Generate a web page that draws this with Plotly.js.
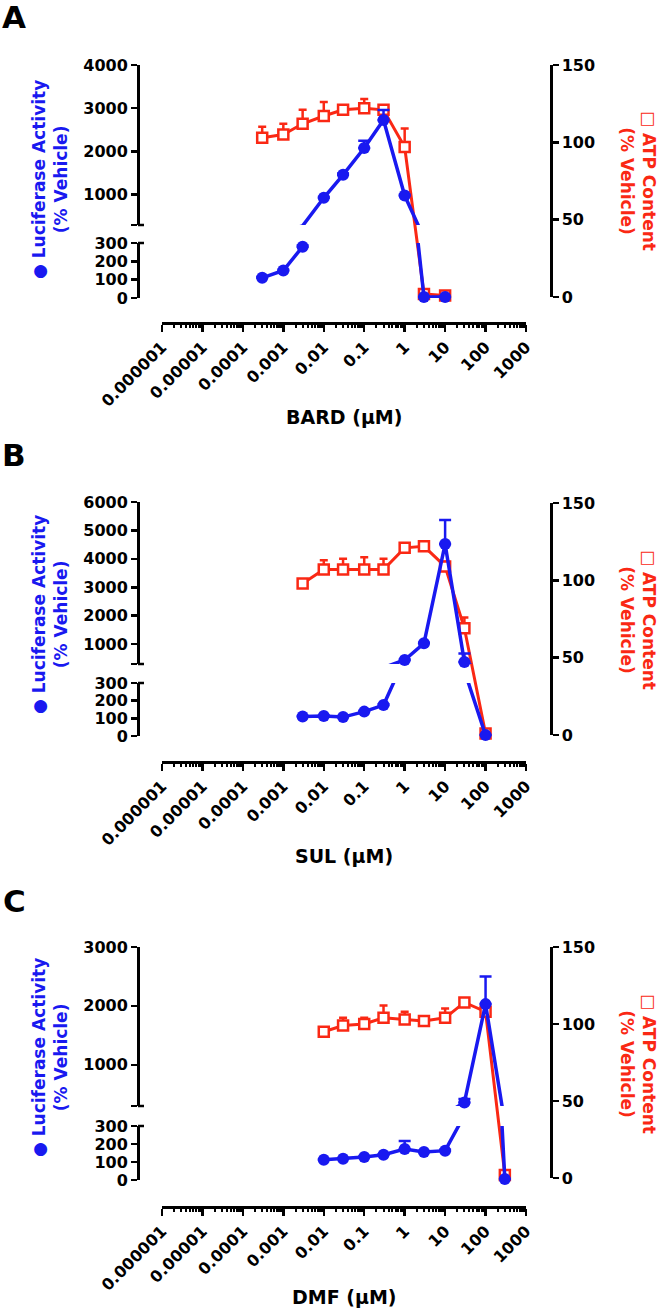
<!DOCTYPE html>
<html>
<head>
<meta charset="utf-8">
<script src="https://cdn.plot.ly/plotly-3.0.1.min.js"></script>
<style>
  html, body { margin: 0; padding: 0; background: #fff; }
  #chart { width: 661px; height: 1311px; }
</style>
</head>
<body>
<div id="chart"></div>
<script>
// concentrations (uM) per panel
const concA = [0.0003, 0.001, 0.003, 0.01, 0.03, 0.1, 0.3, 1, 3, 10];
const concB = [0.003, 0.01, 0.03, 0.1, 0.3, 1, 3, 10, 30, 100];
const concC = [0.01, 0.03, 0.1, 0.3, 1, 3, 10, 30, 100, 300];

// luciferase activity (% vehicle), mean and upper SD
const lucA = [110, 150, 280, 930, 1460, 2080, 2730, 980, 5, 5];
const lucErrA = [4, 4, 6, 20, 30, 170, 230, 20, 1, 1];
const lucB = [110, 113, 107, 138, 175, 440, 1030, 4520, 370, 5];
const lucErrB = [3, 3, 3, 4, 5, 20, 20, 850, 300, 1];
const lucC = [112, 118, 128, 140, 172, 155, 163, 360, 2030, 5];
const lucErrC = [3, 3, 3, 3, 45, 3, 5, 60, 470, 1];

// ATP content (% vehicle), mean and upper SD
const atpA = [103, 105, 112, 117, 121, 122, 121, 97, 2, 1];
const atpErrA = [7, 7, 9, 9, 2, 6, 3, 12, 1, 1];
const atpB = [98, 107, 107, 107, 107, 121, 122, 109, 69, 1];
const atpErrB = [1, 6, 7, 8, 7, 1, 2, 3, 7, 0];
const atpC = [95, 99, 100, 104, 103, 102, 104, 114, 108, 2];
const atpErrC = [1, 5, 4, 8, 5, 1, 6, 2, 2, 0];

const drugs = ['BARD', 'SUL', 'DMF'];
const letters = ['A', 'B', 'C'];

const xTickVals = [1e-6, 1e-5, 1e-4, 1e-3, 1e-2, 1e-1, 1, 10, 100, 1000];
const xTickText = ['0.000001', '0.00001', '0.0001', '0.001', '0.01', '0.1', '1', '10', '100', '1000'];
const lowTicks = [0, 100, 200, 300];
const breakAt = 300;
const upTop = [4000, 6000, 3000];
const atpTicks = [0, 50, 100, 150];

const panels = [
  {conc: concA, luc: lucA, lucErr: lucErrA, atp: atpA, atpErr: atpErrA},
  {conc: concB, luc: lucB, lucErr: lucErrB, atp: atpB, atpErr: atpErrB},
  {conc: concC, luc: lucC, lucErr: lucErrC, atp: atpC, atpErr: atpErrC}
];

// pixel geometry of each panel
const geo = [
  {xLine: 323, redBot: 297, redTop: 65, lowBot: 298, lowTop: 243, upBot: 225, upTopPx: 65,
   letterY: 17, leftTitleY: 180, rightTitleY: 181, xTitleY: 417},
  {xLine: 762, redBot: 735, redTop: 503, lowBot: 736, lowTop: 683, upBot: 664, upTopPx: 502,
   letterY: 455, leftTitleY: 615, rightTitleY: 620, xTitleY: 856},
  {xLine: 1207, redBot: 1178, redTop: 947, lowBot: 1180, lowTop: 1126, upBot: 1106, upTopPx: 947,
   letterY: 901, leftTitleY: 1058, rightTitleY: 1064, xTitleY: 1297}
];

const W = 661, H = 1311;
const fx = p => p / W;
const fy = p => 1 - p / H;
const LEFT_X = 138, RIGHT_X = 551, X0 = 162, X1 = 526;

const BLUE = 'rgb(25,25,240)';
const RED = 'rgb(250,40,20)';
const FONT = 'DejaVu Sans, Arial, sans-serif';
const tickFont = {family: FONT, size: 16, color: 'black', weight: 'bold'};

const data = [];
const layout = {
  width: W, height: H,
  margin: {l: 0, r: 0, t: 0, b: 0},
  paper_bgcolor: 'white',
  plot_bgcolor: 'rgba(0,0,0,0)',
  showlegend: false,
  font: {family: FONT},
  annotations: [],
  shapes: []
};

const yAxisBase = {
  anchor: 'free', showgrid: false, zeroline: false, showline: true,
  linecolor: 'black', linewidth: 2.5, ticks: 'outside', ticklen: 6, tickwidth: 2.5,
  tickcolor: 'black', tickfont: tickFont, fixedrange: true
};

panels.forEach((p, i) => {
  const g = geo[i];
  const xid = i === 0 ? 'x' : 'x' + (i + 1);
  const xkey = i === 0 ? 'xaxis' : 'xaxis' + (i + 1);
  const rId = 3 * i + 1, loId = 3 * i + 2, upId = 3 * i + 3;
  const yid = n => n === 1 ? 'y' : 'y' + n;
  const ykey = n => n === 1 ? 'yaxis' : 'yaxis' + n;

  layout[xkey] = {
    type: 'log', range: [-6, 3], domain: [fx(X0), fx(X1)],
    anchor: 'free', position: fy(g.xLine),
    showgrid: false, zeroline: false, showline: true, linecolor: 'black', linewidth: 2.5,
    ticks: 'outside', ticklen: 7, tickwidth: 2.5, tickcolor: 'black',
    tickmode: 'array', tickvals: xTickVals, ticktext: xTickText, tickangle: -45,
    tickfont: tickFont, fixedrange: true,
    minor: {ticks: 'outside', ticklen: 3.5, tickwidth: 2, tickcolor: 'black', dtick: 'D1', showgrid: false}
  };

  layout[ykey(rId)] = Object.assign({}, yAxisBase, {
    domain: [fy(g.redBot), fy(g.redTop)], range: [0, 150], side: 'right',
    position: fx(RIGHT_X), tickmode: 'array', tickvals: atpTicks
  });
  layout[ykey(loId)] = Object.assign({}, yAxisBase, {
    domain: [fy(g.lowBot), fy(g.lowTop)], range: [0, breakAt],
    position: fx(LEFT_X), tickmode: 'array', tickvals: lowTicks
  });
  const upVals = [breakAt];
  for (let v = 1000; v <= upTop[i]; v += 1000) upVals.push(v);
  layout[ykey(upId)] = Object.assign({}, yAxisBase, {
    domain: [fy(g.upBot), fy(g.upTopPx)], range: [breakAt, upTop[i]],
    position: fx(LEFT_X), tickmode: 'array', tickvals: upVals,
    ticktext: upVals.map(v => v === breakAt ? '' : String(v))
  });

  // ATP content (red open squares)
  data.push({
    x: p.conc, y: p.atp, xaxis: xid, yaxis: yid(rId),
    mode: 'lines+markers', cliponaxis: false,
    line: {color: RED, width: 3},
    marker: {symbol: 'square', size: 10, color: 'white', line: {color: RED, width: 2.5}},
    error_y: {type: 'data', symmetric: false, array: p.atpErr, arrayminus: p.atp.map(() => 0),
              color: RED, thickness: 2.5, width: 4}
  });

  // luciferase lines, drawn on both halves of the broken axis
  [loId, upId].forEach(id => {
    data.push({
      x: p.conc, y: p.luc, xaxis: xid, yaxis: yid(id),
      mode: 'lines', line: {color: BLUE, width: 3.5}, hoverinfo: 'skip'
    });
  });

  // luciferase markers, split by segment
  [[loId, v => v <= breakAt], [upId, v => v > breakAt]].forEach(([id, keep]) => {
    const idx = p.luc.map((v, k) => k).filter(k => keep(p.luc[k]));
    data.push({
      x: idx.map(k => p.conc[k]), y: idx.map(k => p.luc[k]),
      xaxis: xid, yaxis: yid(id), mode: 'markers', cliponaxis: false,
      marker: {symbol: 'circle', size: 12, color: BLUE},
      error_y: {type: 'data', symmetric: false, array: idx.map(k => p.lucErr[k]),
                arrayminus: idx.map(() => 0), color: BLUE, thickness: 2.5, width: 6}
    });
  });

  // break caps
  [g.upBot, g.lowTop].forEach(yp => {
    layout.shapes.push({type: 'line', xref: 'paper', yref: 'paper',
      x0: fx(LEFT_X), x1: fx(LEFT_X + 6), y0: fy(yp), y1: fy(yp),
      line: {color: 'black', width: 2.5}});
  });

  layout.annotations.push(
    {text: letters[i], xref: 'paper', yref: 'paper', x: fx(14), y: fy(g.letterY),
     showarrow: false, xanchor: 'center', yanchor: 'middle',
     font: {family: FONT, size: 31, color: 'black', weight: 'bold'}},
    {text: '● Luciferase Activity<br>(% Vehicle)', xref: 'paper', yref: 'paper',
     x: fx(50), y: fy(g.leftTitleY), showarrow: false, textangle: -90,
     xanchor: 'center', yanchor: 'middle', align: 'center',
     font: {family: FONT, size: 17, color: BLUE, weight: 'bold'}},
    {text: '□ ATP Content<br>(% Vehicle)', xref: 'paper', yref: 'paper',
     x: fx(638), y: fy(g.rightTitleY), showarrow: false, textangle: 90,
     xanchor: 'center', yanchor: 'middle', align: 'center',
     font: {family: FONT, size: 17, color: RED, weight: 'bold'}},
    {text: drugs[i] + ' (μM)', xref: 'paper', yref: 'paper',
     x: fx((X0 + X1) / 2), y: fy(g.xTitleY), showarrow: false,
     xanchor: 'center', yanchor: 'middle',
     font: {family: FONT, size: 19, color: 'black', weight: 'bold'}}
  );
});

Plotly.newPlot('chart', data, layout, {displayModeBar: false, staticPlot: true});
</script>
</body>
</html>
